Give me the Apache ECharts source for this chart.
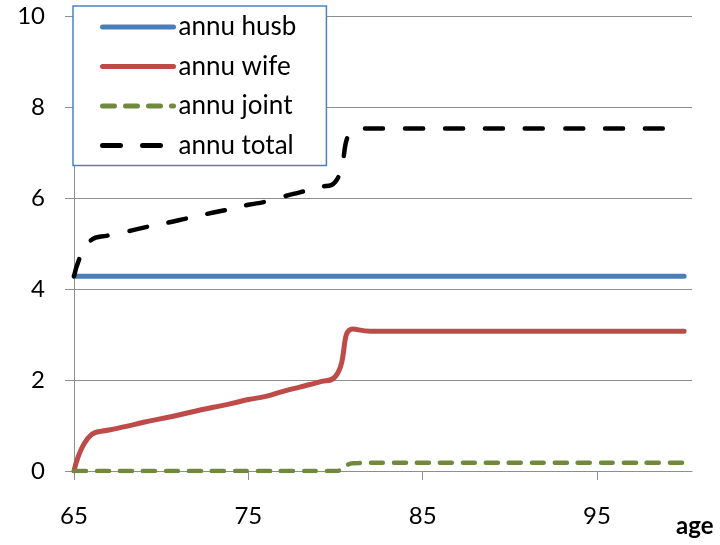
<!DOCTYPE html>
<html>
<head>
<meta charset="utf-8">
<script src="https://cdn.jsdelivr.net/npm/echarts@6/dist/echarts.min.js"></script>
<style>
  html, body { margin: 0; padding: 0; background: #fff; }
  #chart { width: 720px; height: 545px; }
</style>
</head>
<body>
<div id="chart"></div>
<script>
// Annuity values by age (65 to 100)
const ages = [65, 66, 67, 68, 69, 70, 71, 72, 73, 74, 75, 76, 77, 78, 79, 80, 81, 82,
              83, 84, 85, 86, 87, 88, 89, 90, 91, 92, 93, 94, 95, 96, 97, 98, 99, 100];

const annuHusb = [4.28, 4.28, 4.28, 4.28, 4.28, 4.28, 4.28, 4.28, 4.28, 4.28, 4.28, 4.28,
                  4.28, 4.28, 4.28, 4.28, 4.28, 4.28, 4.28, 4.28, 4.28, 4.28, 4.28, 4.28,
                  4.28, 4.28, 4.28, 4.28, 4.28, 4.28, 4.28, 4.28, 4.28, 4.28, 4.28, 4.28];

const annuWife = [0.00, 0.80, 0.90, 0.98, 1.07, 1.15, 1.23, 1.32, 1.40, 1.48, 1.57, 1.64,
                  1.75, 1.85, 1.95, 2.08, 3.12, 3.07, 3.07, 3.07, 3.07, 3.07, 3.07, 3.07,
                  3.07, 3.07, 3.07, 3.07, 3.07, 3.07, 3.07, 3.07, 3.07, 3.07, 3.07, 3.07];

const annuJoint = [0.00, 0.00, 0.00, 0.00, 0.00, 0.00, 0.00, 0.00, 0.00, 0.00, 0.00, 0.00,
                   0.00, 0.00, 0.00, 0.00, 0.17, 0.18, 0.18, 0.18, 0.18, 0.18, 0.18, 0.18,
                   0.18, 0.18, 0.18, 0.18, 0.18, 0.18, 0.18, 0.18, 0.18, 0.18, 0.18, 0.18];

const annuTotal = [4.28, 5.08, 5.18, 5.26, 5.35, 5.43, 5.51, 5.60, 5.68, 5.76, 5.85, 5.92,
                   6.03, 6.13, 6.23, 6.36, 7.47, 7.53, 7.53, 7.53, 7.53, 7.53, 7.53, 7.53,
                   7.53, 7.53, 7.53, 7.53, 7.53, 7.53, 7.53, 7.53, 7.53, 7.53, 7.53, 7.53];

const xTicks = [65, 75, 85, 95];
const seriesNames = ['annu husb', 'annu wife', 'annu joint', 'annu total'];

const FONT = 'Lato, "Open Sans", sans-serif';
const GRID_GRAY = '#8E8E8E';

function pairs(values) {
  return ages.map((a, i) => [a, values[i]]);
}

const chart = echarts.init(document.getElementById('chart'), null, { renderer: 'canvas' });

chart.setOption({
  animation: false,
  backgroundColor: '#fff',
  grid: { left: 74, right: 28, top: 16, bottom: 74, containLabel: false },
  xAxis: {
    type: 'value',
    min: 65,
    max: 100.45,
    name: 'age',
    nameLocation: 'end',
    nameGap: -16,
    nameTextStyle: {
      fontFamily: FONT, fontSize: 24, fontWeight: 'bold', color: '#000',
      align: 'left', verticalAlign: 'top', padding: [43, 0, 0, 0]
    },
    axisLine: { show: true, lineStyle: { color: GRID_GRAY, width: 1 } },
    axisTick: { show: true, inside: false, length: 9, customValues: xTicks,
                lineStyle: { color: GRID_GRAY, width: 1 } },
    axisLabel: { customValues: xTicks, fontFamily: FONT, fontSize: 24, color: '#000', margin: 33 },
    splitLine: { show: false }
  },
  yAxis: {
    type: 'value',
    min: 0,
    max: 10,
    interval: 2,
    axisLine: { show: true, lineStyle: { color: GRID_GRAY, width: 1 } },
    axisTick: { show: true, inside: false, length: 9, lineStyle: { color: GRID_GRAY, width: 1 } },
    axisLabel: { fontFamily: FONT, fontSize: 24, color: '#000', margin: 29 },
    splitLine: { show: true, lineStyle: { color: GRID_GRAY, width: 1 } }
  },
  legend: {
    data: seriesNames,
    orient: 'vertical',
    left: 73,
    top: 6,
    padding: [8, 30, 7, 27],
    itemWidth: 71,
    itemHeight: 26,
    itemGap: 13.5,
    backgroundColor: '#fff',
    borderColor: '#4F81BD',
    borderWidth: 1.5,
    borderRadius: 0,
    itemStyle: { opacity: 0 },
    lineStyle: { width: 5, cap: 'round' },
    textStyle: { fontFamily: FONT, fontSize: 26, color: '#000', lineHeight: 26 },
    selectedMode: false
  },
  series: [
    {
      name: seriesNames[0], type: 'line', data: pairs(annuHusb), smooth: true,
      symbol: 'none', z: 3,
      lineStyle: { color: '#4A7EBB', width: 5, cap: 'round' },
      itemStyle: { color: '#4A7EBB' }
    },
    {
      name: seriesNames[1], type: 'line', data: pairs(annuWife), smooth: true,
      symbol: 'none', z: 3,
      lineStyle: { color: '#BE4B48', width: 5, cap: 'round' },
      itemStyle: { color: '#BE4B48' }
    },
    {
      name: seriesNames[2], type: 'line', data: pairs(annuJoint), smooth: true,
      symbol: 'none', z: 3,
      lineStyle: { color: '#71893F', width: 4.5, type: [12, 11], cap: 'round' },
      itemStyle: { color: '#71893F' }
    },
    {
      name: seriesNames[3], type: 'line', data: pairs(annuTotal), smooth: true,
      symbol: 'none', z: 3,
      lineStyle: { color: '#000', width: 4.5, type: [18, 22], cap: 'round' },
      itemStyle: { color: '#000' }
    }
  ]
});
</script>
</body>
</html>
